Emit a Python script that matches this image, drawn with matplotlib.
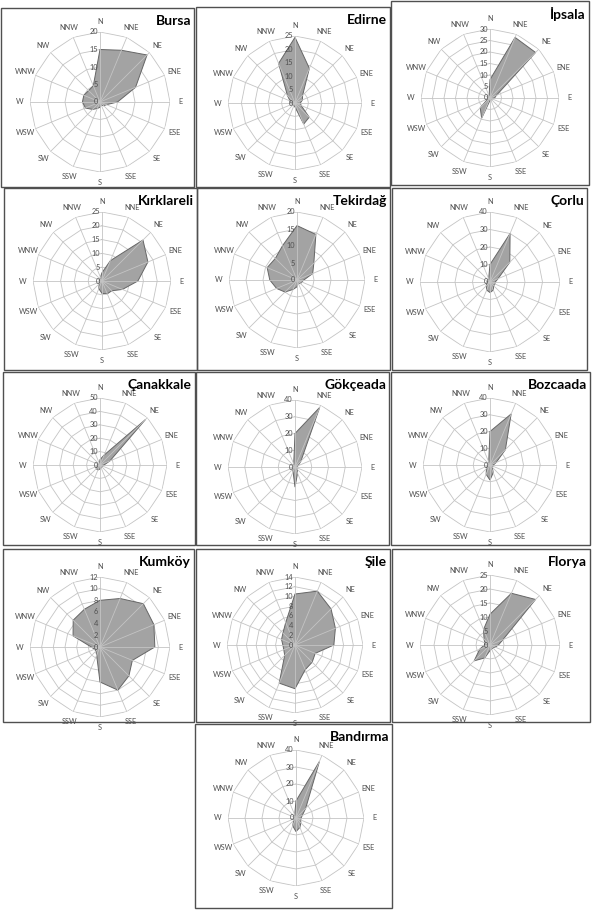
import numpy as np
import matplotlib
matplotlib.use("Agg")
import matplotlib.pyplot as plt
from matplotlib.patches import Rectangle

plt.rcParams['font.family'] = ['Lato', 'DejaVu Sans']

# wind directions, clockwise from north
directions = ["N", "NNE", "NE", "ENE", "E", "ESE", "SE", "SSE",
              "S", "SSW", "SW", "WSW", "W", "WNW", "NW", "NNW"]

stations = ["Bursa", "Edirne", "İpsala",
            "Kırklareli", "Tekirdağ", "Çorlu",
            "Çanakkale", "Gökçeada", "Bozcaada",
            "Kumköy", "Şile", "Florya",
            "Bandırma"]

# frequency (%) per direction
bursa = [15, 16, 19, 11, 5, 2, 1.5, 1, 1.5, 2, 3, 4.5, 5, 5, 4.6, 5]
edirne = [24.5, 14, 4, 3, 2, 2.5, 7.5, 8.5, 1.5, 1, 1, 1, 1.5, 2, 4, 16]
ipsala = [8, 28.5, 28, 3, 2, 1, 1, 1, 1, 9.5, 6, 1, 1, 1, 1, 1]
kirklareli = [3, 8, 21, 18, 13, 8, 5, 5, 4.5, 3, 1.5, 1, 1, 1, 1, 1.5]
tekirdag = [16, 14.5, 7, 5, 2, 1.5, 1.5, 1, 2, 3, 5, 6.5, 8, 9.5, 9, 11]
corlu = [10, 30, 16, 5, 3, 3, 3, 5, 6, 5, 3, 2, 2, 1, 1, 2]
canakkale = [4, 8, 48, 8, 3, 2, 2, 2, 3, 4, 4, 3, 2, 1, 1, 1]
gokceada = [20, 38.5, 5, 2, 1, 1, 2, 4, 12, 3, 2, 1, 1, 1, 1, 2]
bozcaada = [20, 33, 13, 4, 2, 2, 2, 5, 9, 6, 3, 2, 1, 1, 1, 2]
kumkoy = [8, 9, 10.5, 10, 9.4, 6, 7, 8, 6, 1.5, 1, 1, 1.5, 5, 6.5, 7]
sile = [10.5, 12, 10.5, 9, 8, 4.5, 5, 5.5, 9, 8.5, 3, 2.5, 2.5, 3, 3.5, 5]
florya = [11, 20, 23, 5, 3, 2, 1.5, 1.5, 2, 5, 8, 4, 2, 2, 3, 6]
bandirma = [10, 36, 8, 4, 3, 3, 4, 6, 8, 5, 2, 1, 1, 1, 1, 2]

series = [bursa, edirne, ipsala, kirklareli, tekirdag, corlu,
          canakkale, gokceada, bozcaada, kumkoy, sile, florya, bandirma]

# radial axis max and step per station
r_max = [20, 25, 30, 25, 20, 40, 50, 40, 40, 12, 14, 25, 40]
r_step = [5, 5, 5, 5, 5, 10, 10, 10, 10, 2, 2, 5, 10]

# layout in pixels: chart centre + outer radius, panel box (x0, y0, x1, y1)
centers = [(100, 102), (295, 103), (490, 98),
           (102, 281), (297, 280), (490, 282),
           (100, 465), (295, 467), (490, 465),
           (100, 647), (295, 645), (490, 645),
           (296, 818)]
radius = [70, 67, 69, 69, 68, 70, 67, 67, 67, 70, 68, 70, 68]
boxes = [(1, 8, 194, 187), (196, 7, 390, 187), (391, 1, 589, 185),
         (4, 188, 197, 370), (197, 188, 390, 370), (392, 188, 587, 370),
         (3, 372, 195, 545), (196, 372, 389, 545), (391, 372, 590, 545),
         (3, 549, 194, 722), (196, 549, 390, 722), (392, 549, 590, 722),
         (195, 724, 392, 908)]

W, H = 592, 911
fig = plt.figure(figsize=(W / 100, H / 100), dpi=100)

theta = np.linspace(0, 2 * np.pi, len(directions), endpoint=False)
theta_c = np.append(theta, theta[0])

grid_col = "#c4c4c4"
text_col = "#505050"

for i, name in enumerate(stations):
    x0, y0, x1, y1 = boxes[i]
    fig.add_artist(Rectangle((x0 / W, 1 - y1 / H), (x1 - x0) / W, (y1 - y0) / H,
                             transform=fig.transFigure, fill=False,
                             edgecolor="#505050", linewidth=1.0))
    fig.text((x1 - 3) / W, 1 - (y0 + 13) / H, name, ha="right", va="center",
             fontsize=10, fontweight="bold", color="black")

    cx, cy = centers[i]
    r = radius[i]
    ax = fig.add_axes([(cx - r) / W, 1 - (cy + r) / H, 2 * r / W, 2 * r / H],
                      projection="polar")
    ax.set_theta_zero_location("N")
    ax.set_theta_direction(-1)
    ax.set_ylim(0, r_max[i])
    ax.set_frame_on(False)
    ax.grid(False)
    ax.set_xticks([])
    ax.set_yticks([])

    vals = np.append(series[i], series[i][0])
    ax.fill(theta_c, vals, facecolor="#a3a3a3", edgecolor="#666666",
            linewidth=0.7, zorder=2)

    rings = np.arange(r_step[i], r_max[i] + 0.01, r_step[i])
    for rv in rings:
        ax.plot(theta_c, [rv] * len(theta_c), color=grid_col, lw=0.6, zorder=1)
    for t in theta:
        ax.plot([t, t], [0, r_max[i]], color=grid_col, lw=0.6, zorder=3)

    for rv in np.arange(0, r_max[i] + 0.01, r_step[i]):
        ax.annotate(f"{rv:g}", xy=(0, rv), xytext=(-1.5, 0),
                    textcoords="offset points", ha="right", va="center",
                    fontsize=5.3, color=text_col, zorder=4, annotation_clip=False)

    for t, d in zip(theta, directions):
        ax.text(t, r_max[i] * 1.15, d, ha="center", va="center",
                fontsize=5.3, color=text_col, clip_on=False)

fig.savefig("out.png", dpi=100, facecolor="white")
